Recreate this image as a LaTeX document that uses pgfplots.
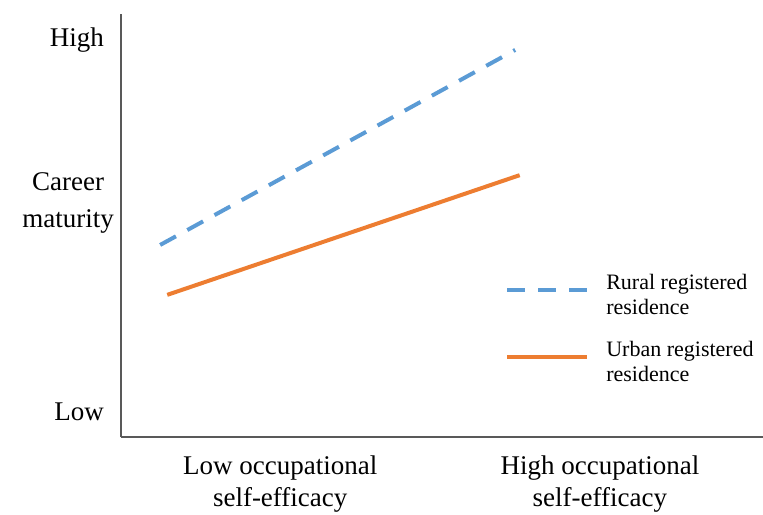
\documentclass[border=0pt]{standalone}
\usepackage{pgfplots}
\pgfplotsset{compat=1.18}
\usepackage{fontspec}
\setmainfont{Liberation Serif}[Ligatures=NoCommon]
\definecolor{rural}{HTML}{5B9BD5}
\definecolor{urban}{HTML}{ED7D31}
\definecolor{axisgray}{HTML}{595959}
\begin{document}
\begin{tikzpicture}
\useasboundingbox (-60.5pt,-38.5pt) rectangle (321pt,218.5pt);
\begin{axis}[
  at={(0,0)}, anchor=south west,
  scale only axis, width=321pt, height=211.5pt,
  xmin=0, xmax=10, ymin=0, ymax=10,
  axis x line*=bottom, axis y line*=left,
  axis line style={axisgray, line width=1pt, -},
  xtick={2.48,7.46},
  xticklabels={Low occupational\\self-efficacy, High occupational\\self-efficacy},
  xticklabel style={align=center, font=\fontsize{13.5}{16}\selectfont, yshift=-6pt},
  ytick={0.59,5.53,9.39},
  yticklabels={Low\hspace*{5pt}\mbox{}, Career\\maturity, High\hspace*{5pt}\mbox{}},
  yticklabel style={align=center, font=\fontsize{13.5}{18.5}\selectfont},
  major tick length=0pt,
  clip=false,
  legend cell align=left,
  legend image code/.code={\draw[#1] (0pt,3pt) -- (40pt,3pt);},
  legend style={at={(axis cs:5.98,3.95)}, anchor=north west, draw=none, fill=none,
    inner sep=0pt, row sep=8pt,
    font=\fontsize{11}{12.5}\selectfont,
    nodes={align=left},
    /tikz/every odd column/.append style={column sep=6.5pt}},
]
\addplot[rural, line width=2pt, dash pattern=on 9pt off 6.5pt] coordinates {(0.61,4.54) (6.14,9.15)};
\addlegendentry{Rural registered\\residence}
\addplot[urban, line width=2pt] coordinates {(0.72,3.36) (6.21,6.19)};
\addlegendentry{Urban registered\\residence}
\end{axis}
\end{tikzpicture}
\end{document}
